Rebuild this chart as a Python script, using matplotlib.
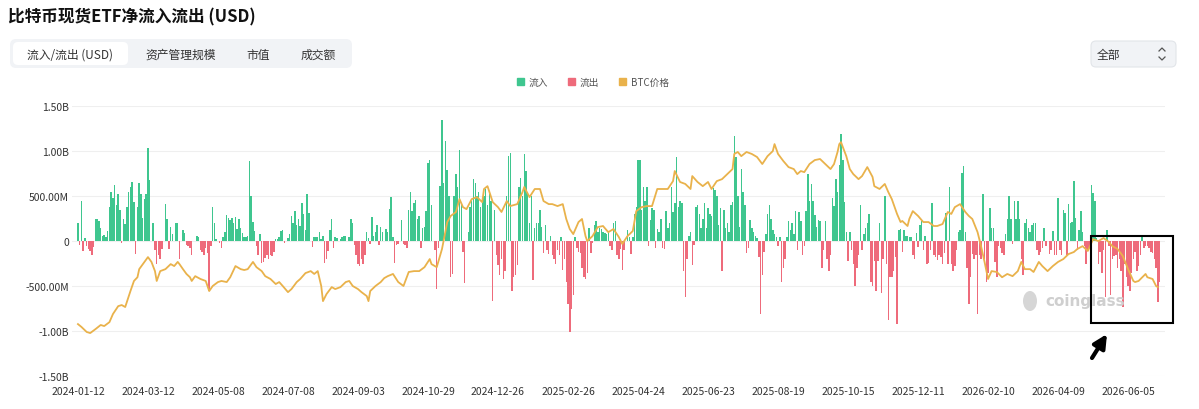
import numpy as np
import matplotlib.pyplot as plt
from matplotlib.patches import FancyBboxPatch, Rectangle, Patch, Ellipse
from matplotlib.lines import Line2D
from matplotlib.transforms import IdentityTransform

plt.rcParams['font.family'] = ['Noto Sans CJK SC', 'DejaVu Sans']

W, H = 1199, 410

# daily net flow, million USD (one value per trading day from 2024-01-12)
flows = [
    200, -40, 450, -110, 30, -60, -90, -110, -150, -70,
    250, 250, 220, 140, 60, 70, 40, 110, 380, 540,
    480, 620, 400, 520, 340, -20, 240, 190, 380, 550,
    600, 660, 430, -140, 380, 640, 520, 260, 470, 520,
    1030, 680, 0, 200, -100, -260, -150, -200, -90, 0,
    410, 250, -90, 160, 80, 0, 200, 200, -200, 0,
    120, 90, -40, -60, -80, -160, 0, 0, 60, 50,
    -100, -120, -150, -80, -130, -560, -50, 380, 200, 20,
    0, -20, -80, 50, 100, 290, 260, 230, 260, 200,
    270, 130, 240, 150, 90, 50, 40, 60, 890, 500,
    210, 110, -60, -150, 80, -240, -230, -190, -160, -200,
    -150, -170, -120, 20, 20, 40, 110, 120, -20, 0,
    30, 80, 280, 200, 330, 180, 250, 170, 420, 300,
    120, 520, 310, 0, -70, 40, 40, 50, 100, 20,
    60, -240, -200, -110, 120, 250, -80, 40, 30, 0,
    20, 40, 60, 60, 0, 50, 250, 200, -40, -150,
    -250, -280, -200, -250, -150, 100, 30, -30, 270, 60,
    100, 180, -40, 160, 100, 0, 130, 100, 360, 490,
    50, -240, -40, -30, 0, 230, -30, -40, -80, 350,
    550, 330, 420, 460, 250, 280, -80, 150, 160, 330,
    870, 900, 400, 0, -100, -530, -80, 610, 1350, 650,
    1110, 790, 500, -400, -370, 500, 750, 600, 1010, 400,
    -120, -470, 0, 100, 380, 450, 690, 650, 500, 550,
    380, 450, 500, 580, 400, 520, 450, -670, 350, -150,
    -270, -380, -200, -420, -330, 500, 950, 980, -560, -400,
    -380, -270, 600, 700, 500, 970, 780, 550, 200, 500,
    -430, 150, 200, 200, 350, 160, -130, 180, -100, -140,
    60, -150, -200, -250, -100, -150, 40, -320, -200, -460,
    -700, -1010, -750, -600, 50, -80, -120, -130, -300, -400,
    -420, -350, 150, -130, -20, 180, 220, 100, 150, 130,
    100, 90, 80, 100, -50, -100, 200, 220, -150, -200,
    -90, -320, -100, 0, 120, 40, -140, 40, 300, 380,
    900, 900, 350, 600, 450, 600, -50, 230, 370, 340,
    -80, 130, 100, 250, -80, -90, 330, 150, 200, 600,
    320, 420, 930, 380, 440, 420, -330, -620, -200, 60,
    100, -270, -40, 380, 400, 300, 150, 250, 420, 150,
    370, 300, 280, 590, 570, 500, 180, 370, -330, 340,
    150, 200, 100, 400, 430, 1170, 930, 500, 160, 800,
    550, 400, -130, -80, 230, 150, 100, 60, 30, -180,
    -810, -380, -120, 80, 300, 400, 250, 120, 80, 50,
    -60, 50, -450, -300, -200, 50, 220, 120, 200, 80,
    330, -100, 320, 220, -160, -60, 330, 740, 440, 630,
    450, 290, 160, 230, 220, -300, -100, 220, -200, -330,
    -150, 480, 390, 690, 550, 850, 1190, 900, 430, 100,
    -220, 100, -100, -250, -500, -300, -150, 400, -100, 80,
    150, 200, 300, -450, -500, -220, -550, -220, 200, -580,
    -200, 500, -250, -880, -400, -400, -330, -180, -920, 120,
    130, -120, 120, 60, 60, 50, 40, -150, -200, 90,
    -70, 180, 220, -100, 60, -260, -240, -100, 420, -160,
    -180, -210, -150, -180, -250, -130, 310, -250, 600, -250,
    -330, -280, -100, 100, 120, 760, 830, 100, -300, -700,
    -400, -140, -200, -150, -810, -150, -200, 520, -200, -450,
    -350, 370, 150, 150, -230, -400, -50, -80, -130, -150,
    80, 240, 500, 250, -30, 450, 250, 450, 250, -200,
    -380, 200, 250, 150, 100, 180, 200, 200, -100, -150,
    -120, -80, 150, -60, 0, -140, -100, 110, -150, -160,
    480, -100, -150, 350, 310, -150, 410, 200, 210, 670,
    260, -100, 120, 330, 100, -50, -250, -100, -60, 620,
    530, 450, 30, -250, -120, -350, -100, -620, 120, -50,
    -600, -200, -170, -150, -300, -200, -330, -730, -250, -400,
    -500, -550, -350, -200, -120, -330, -280, -150, 70, -80,
    -50, -60, -80, -120, -130, -200, -300, -680, -450,
]

# BTC price (thousand USD) read at these trading-day indexes
btc_day = [
    0, 2, 5, 7, 10, 13, 15, 18, 20, 23,
    25, 27, 30, 32, 34, 35, 38, 40, 42, 44,
    45, 47, 50, 53, 55, 57, 58, 60, 62, 64,
    65, 67, 70, 73, 75, 77, 80, 82, 85, 87,
    90, 93, 95, 97, 100, 102, 105, 107, 110, 113,
    115, 117, 120, 122, 125, 127, 130, 133, 135, 137,
    139, 140, 142, 145, 147, 150, 153, 155, 157, 160,
    162, 165, 166, 167, 170, 173, 175, 177, 180, 183,
    186, 189, 192, 195, 198, 201, 202, 205, 208, 211,
    213, 216, 218, 220, 222, 225, 228, 231, 232, 234,
    237, 240, 242, 245, 247, 251, 254, 255, 258, 261,
    264, 266, 269, 271, 274, 277, 279, 281, 283, 286,
    288, 290, 291, 294, 297, 300, 303, 306, 309, 311,
    314, 317, 319, 322, 325, 328, 331, 334, 337, 340,
    341, 344, 347, 350, 351, 354, 357, 360, 362, 365,
    368, 371, 374, 375, 377, 379, 382, 385, 388, 391,
    394, 397, 398, 400, 403, 406, 409, 411, 413, 415,
    418, 421, 424, 427, 430, 432, 434, 435, 436, 437,
    439, 441, 443, 446, 448, 451, 454, 455, 458, 461,
    463, 465, 468, 470, 471, 474, 475, 477, 480, 483,
    486, 489, 491, 494, 497, 499, 501, 504, 507, 509,
    511, 514, 516, 518, 520, 522, 525, 528, 531, 534,
    537, 539, 541, 544, 546, 549, 551, 554, 557, 560,
    563, 566, 569, 571, 574, 577, 580, 583, 586, 589,
    591, 594, 597, 600, 603, 604, 606, 610, 611, 614,
    616, 617,
]
btc_price = [
    44.6, 43.3, 41.0, 40.5, 42.3, 44.2, 43.7, 45.5, 49.2, 52.8,
    53.3, 52.4, 59.7, 64.3, 66.0, 69.7, 73.0, 75.2, 73.0, 68.8,
    64.3, 68.8, 69.7, 72.0, 71.1, 73.0, 72.0, 69.7, 67.5, 66.0,
    64.3, 66.5, 65.2, 64.3, 59.7, 62.0, 63.8, 64.3, 63.8, 66.0,
    71.1, 69.7, 69.3, 69.7, 73.0, 70.6, 68.8, 66.5, 65.2, 62.9,
    63.8, 62.0, 59.2, 60.6, 63.8, 65.2, 67.9, 68.8, 67.5, 68.8,
    62.0, 55.1, 58.3, 61.5, 60.6, 61.5, 63.8, 64.3, 62.0, 60.6,
    59.2, 57.4, 55.1, 59.7, 62.0, 63.8, 65.6, 66.5, 67.5, 63.8,
    62.0, 68.4, 68.8, 68.8, 70.6, 74.3, 72.0, 70.6, 78.9, 91.2,
    94.0, 95.8, 101.7, 98.0, 97.1, 101.7, 102.6, 100.3, 106.3, 107.6,
    100.3, 98.0, 95.8, 100.8, 98.5, 99.4, 104.9, 107.2, 102.6, 106.3,
    106.3, 100.8, 99.4, 99.4, 98.5, 99.4, 92.6, 88.0, 85.7, 91.2,
    92.6, 84.8, 82.5, 84.8, 88.9, 89.4, 86.6, 88.0, 84.4, 81.2,
    84.8, 87.1, 96.2, 98.0, 98.5, 98.5, 106.3, 106.3, 106.3, 109.9,
    114.5, 109.5, 108.6, 106.3, 112.2, 109.5, 107.6, 109.5, 106.3, 109.9,
    110.8, 113.1, 115.4, 122.3, 123.2, 121.3, 123.2, 122.3, 120.9, 117.7,
    121.3, 123.6, 126.8, 122.3, 119.1, 116.3, 115.4, 113.1, 114.5, 114.0,
    117.7, 119.5, 120.0, 117.7, 115.4, 117.7, 123.2, 126.8, 127.7, 125.5,
    121.3, 115.4, 113.1, 110.8, 112.2, 116.3, 111.8, 107.6, 106.3, 108.6,
    104.9, 101.7, 94.9, 91.2, 91.7, 89.4, 92.6, 96.2, 94.0, 91.2,
    91.2, 89.4, 89.4, 90.3, 95.8, 94.9, 98.0, 99.4, 95.8, 94.0,
    92.6, 86.6, 80.2, 73.0, 65.2, 68.8, 68.4, 66.0, 67.5, 66.5,
    68.8, 73.0, 69.7, 69.7, 68.4, 73.0, 71.1, 68.8, 71.1, 73.0,
    74.3, 76.6, 77.5, 78.9, 80.2, 78.0, 83.4, 82.5, 83.9, 82.1,
    80.2, 78.9, 75.7, 69.7, 64.3, 63.8, 64.3, 67.5, 66.0, 65.2,
    62.0, 61.5,
]

date_labels = ['2024-01-12', '2024-03-12', '2024-05-08', '2024-07-08', '2024-09-03',
               '2024-10-29', '2024-12-26', '2025-02-26', '2025-04-24', '2025-06-23',
               '2025-08-19', '2025-10-15', '2025-12-11', '2026-02-10', '2026-04-09',
               '2026-06-05']
ytick_vals = [-1500, -1000, -500, 0, 500, 1000, 1500]
ytick_text = ['-1.50B', '-1.00B', '-500.00M', '0', '500.00M', '1.00B', '1.50B']
tabs = ['流入/流出 (USD)', '资产管理规模', '市值', '成交额']

green = '#3fc68f'
red = '#ee6b7b'
gold = '#e9b24b'

fig = plt.figure(figsize=(W / 100, H / 100), dpi=100)
fig.patch.set_facecolor('white')
px = IdentityTransform()

ax = fig.add_axes([72 / W, 1 - 377 / H, (1165 - 72) / W, (377 - 107) / H])
ax.set_facecolor('none')
x = np.arange(len(flows))
f = np.array(flows)
ax.bar(x, f, width=0.85, color=np.where(f >= 0, green, red), linewidth=0, zorder=2)
ax.set_xlim(-3.4, 621.1)
ax.set_ylim(-1500, 1500)
ax.set_yticks(ytick_vals, ytick_text)
ax.set_xticks(np.arange(len(date_labels)) * 40, date_labels)
ax.grid(axis='y', color='#efefef', lw=0.8, zorder=0)
ax.set_axisbelow(True)
for s in ax.spines.values():
    s.set_visible(False)
ax.tick_params(axis='y', length=0, labelsize=7.5, labelcolor='#333333', pad=2)
ax.tick_params(axis='x', length=0, labelsize=7.5, labelcolor='#333333', pad=7)

ax2 = ax.twinx()
ax2.plot(btc_day, btc_price, color=gold, lw=1.3, zorder=3)
ax2.set_ylim(20.9, 144.2)
ax2.axis('off')

# legend
fig.legend(handles=[Patch(color=green, label='流入'), Patch(color=red, label='流出'),
                    Patch(color=gold, label='BTC价格')],
           loc='center', bbox_to_anchor=(593 / W, 1 - 83 / H), ncol=3, frameon=False,
           fontsize=7, handlelength=0.75, handleheight=0.75, columnspacing=2.0,
           handletextpad=0.5, labelcolor='#555555')

# title
fig.text(8 / W, 1 - 17 / H, '比特币现货ETF净流入流出 (USD)', fontsize=12, fontweight='bold',
         color='#111111', va='center', ha='left')

# tab bar
fig.add_artist(FancyBboxPatch((10, H - 69), 342, 29, boxstyle='round,pad=0,rounding_size=6',
                              transform=px, facecolor='#f1f3f6', edgecolor='none'))
fig.add_artist(FancyBboxPatch((13, H - 66), 115, 23, boxstyle='round,pad=0,rounding_size=5',
                              transform=px, facecolor='white', edgecolor='none'))
for label, cx in zip(tabs, [70, 181, 258, 318]):
    fig.text(cx / W, 1 - 55 / H, label, fontsize=8.5, color='#333333', ha='center', va='center')

# dropdown
fig.add_artist(FancyBboxPatch((1091, H - 68), 85, 26, boxstyle='round,pad=0,rounding_size=5',
                              transform=px, facecolor='#f1f3f6', edgecolor='#e2e5e9', lw=0.8))
fig.text(1097 / W, 1 - 55 / H, '全部', fontsize=8.5, color='#333333', ha='left', va='center')
fig.add_artist(Line2D([1159, 1162, 1165], [H - 52, H - 49, H - 52], transform=px,
                      color='#555555', lw=0.9))
fig.add_artist(Line2D([1159, 1162, 1165], [H - 58, H - 61, H - 58], transform=px,
                      color='#555555', lw=0.9))

# watermark
fig.add_artist(Ellipse((1030, H - 302), 14, 20, transform=px, facecolor='#d6d6d6', edgecolor='none'))
fig.text(1045 / W, 1 - 302 / H, 'coinglass', fontsize=11, fontweight='bold', color='#cfcfcf',
         ha='left', va='center', family='DejaVu Sans')

# highlight box and arrow
fig.add_artist(Rectangle((1091, H - 324), 82, 87, transform=px, fill=False,
                         edgecolor='black', lw=1.5))
ax.annotate('', xy=(1107, H - 335), xytext=(1092, H - 359), xycoords='figure pixels',
            textcoords='figure pixels',
            arrowprops=dict(arrowstyle='-|>', color='black', lw=3, mutation_scale=20,
                            shrinkA=0, shrinkB=0))

fig.savefig('out.png', dpi=100)
